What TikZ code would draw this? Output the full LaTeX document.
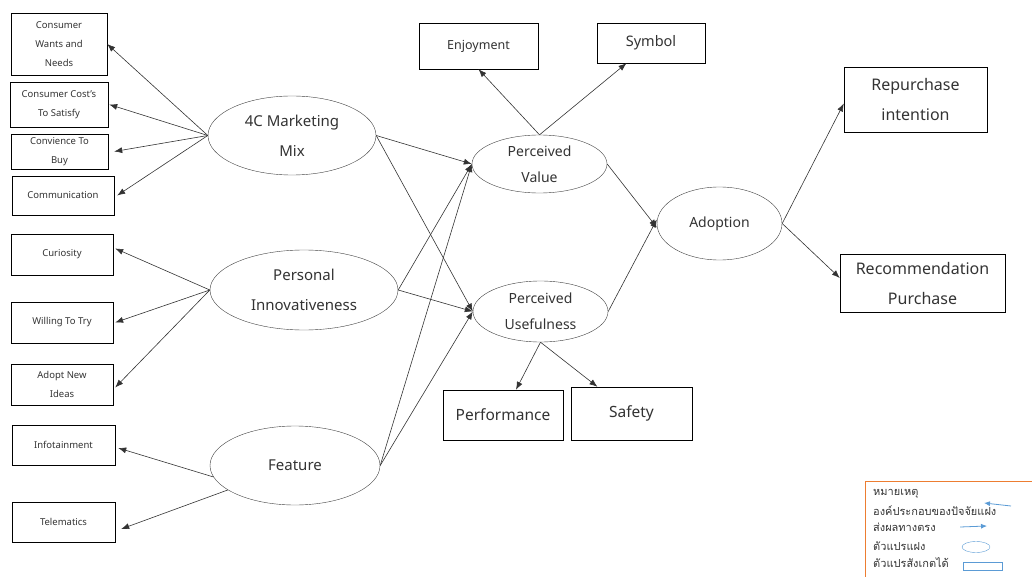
\documentclass[tikz,border=0pt]{standalone}
\usepackage{fontspec}
\setmainfont{Noto Sans}
\newfontfamily\thaifont[Script=Thai]{Loma}
\usetikzlibrary{shapes.geometric, arrows.meta, positioning}
\definecolor{linegray}{HTML}{333333}
\definecolor{legorange}{HTML}{ED7D31}
\definecolor{legblue}{HTML}{5B9BD5}
\tikzstyle{arrow} = [line width=0.6pt,draw=linegray,->,>={Latex[length=8pt,width=6pt]}]
\tikzstyle{legarrow} = [thick,draw=legblue,->,>={Latex[length=6pt,width=5pt]}]
\tikzstyle{obs} = [thin,draw=black,rectangle,inner sep=0pt,align=center,text=black!80]
\tikzstyle{lat} = [thin,draw=black!75,ellipse,inner sep=0pt,align=center,text=black!80]
\tikzstyle{small} = [font=\fontsize{9.5}{19}\selectfont]
\tikzstyle{mid} = [font=\fontsize{14}{26}\selectfont]
\tikzstyle{big} = [font=\fontsize{15}{30}\selectfont]
\tikzstyle{legtxt} = [anchor=west,inner sep=0pt,text=black!80,font=\thaifont\fontsize{11}{12}\selectfont]

\begin{document}
\begin{tikzpicture}[x=1pt,y=-1pt]
    \useasboundingbox (0,0) rectangle (1032,577);

    % indicators on the left
    \node[obs, small, minimum width=96, minimum height=62] (cwn) at (59,44) {Consumer\\Wants and\\Needs};
    \node[obs, small, minimum width=98, minimum height=45] (cost) at (59,104.5) {Consumer Cost's\\To Satisfy};
    \node[obs, small, minimum width=97, minimum height=35] (conv) at (59.5,151.5) {Convience To\\Buy};
    \node[obs, small, minimum width=102, minimum height=39] (comm) at (63,195.5) {Communication};
    \node[obs, small, minimum width=102, minimum height=41] (cur) at (62,254.5) {Curiosity};
    \node[obs, small, minimum width=102, minimum height=41] (will) at (62,322.5) {Willing To Try};
    \node[obs, small, minimum width=102, minimum height=41] (adop) at (62,384.5) {Adopt New\\Ideas};
    \node[obs, small, minimum width=103, minimum height=40] (info) at (63.5,445) {Infotainment};
    \node[obs, small, minimum width=103, minimum height=40] (tele) at (63.5,522) {Telematics};

    % latent variables
    \node[lat, big, minimum width=168, minimum height=79] (mkt) at (292,135.5) {4C Marketing\\Mix};
    \node[lat, big, minimum width=188, minimum height=80] (pinn) at (304,290) {Personal\\Innovativeness};
    \node[lat, big, minimum width=170, minimum height=79] (feat) at (295,465.5) {Feature};
    \node[lat, mid, minimum width=135, minimum height=58] (pv) at (539.5,164) {Perceived\\Value};
    \node[lat, mid, minimum width=135, minimum height=61] (pu) at (540.5,311.5) {Perceived\\Usefulness};
    \node[lat, mid, minimum width=125, minimum height=73] (ado) at (719.5,223.5) {Adoption};

    % indicators on the right
    \node[obs, font=\fontsize{12.5}{15}\selectfont, minimum width=119, minimum height=46] (enj) at (478.5,46) {Enjoyment};
    \node[obs, font=\fontsize{14.5}{17}\selectfont, minimum width=108, minimum height=40] (sym) at (651,43) {Symbol};
    \node[obs, font=\fontsize{16}{30}\selectfont, minimum width=143, minimum height=65] (rep) at (915.5,99.5) {Repurchase\\intention};
    \node[obs, font=\fontsize{16}{30}\selectfont, minimum width=165, minimum height=58] (rec) at (922.5,283) {Recommendation\\Purchase};
    \node[obs, font=\fontsize{15.5}{18}\selectfont, minimum width=120, minimum height=50] (perf) at (503,415) {Performance};
    \node[obs, font=\fontsize{15.5}{18}\selectfont, minimum width=121, minimum height=53] (safe) at (631.5,413.5) {Safety};

    % measurement arrows
    \draw[arrow] (mkt.west) -- (cwn.east);
    \draw[arrow] (mkt.west) -- ([xshift=1]cost.east);
    \draw[arrow] (mkt.west) -- ([xshift=6]conv.east);
    \draw[arrow] (mkt.west) -- ([xshift=3]comm.east);
    \draw[arrow] (pinn.west) -- ([xshift=2,yshift=6]cur.east);
    \draw[arrow] (pinn.west) -- ([xshift=2]will.east);
    \draw[arrow] (pinn.west) -- ([xshift=2,yshift=-3]adop.east);
    \draw[arrow] (feat.188) -- ([xshift=3,yshift=-3]info.east);
    \draw[arrow] (feat.200) -- ([xshift=6,yshift=-7]tele.east);
    \draw[arrow] (pv.north) -- (enj.south);
    \draw[arrow] (pv.north) -- (sym);
    \draw[arrow] (pu.south) -- (perf);
    \draw[arrow] (pu.south) -- (safe);
    \draw[arrow] (ado.east) -- ([yshift=-4]rep.west);
    \draw[arrow] (ado.east) -- ([yshift=5]rec.west);

    % structural paths
    \draw[arrow] (mkt.east) -- (pv.west);
    \draw[arrow] (mkt.east) -- (pu.west);
    \draw[arrow] (pinn.east) -- (pv.west);
    \draw[arrow] (pinn.east) -- (pu.west);
    \draw[arrow] (feat.east) -- (pv.west);
    \draw[arrow] (feat.east) -- (pu.west);
    \draw[arrow] (pv.east) -- ([yshift=-4]ado.west);
    \draw[arrow] (pu.east) -- ([yshift=4]ado.west);

    % legend
    \node[draw=legorange, thick, minimum width=175, minimum height=110, anchor=north west, inner sep=0pt] (legbox) at (865,481) {};
    \node[legtxt] (l1) at (873,494) {หมายเหตุ};
    \node[legtxt] (l2) at (873,511) {องค์ประกอบของปัจจัยแฝง};
    \node[legtxt] (l3) at (873,527) {ส่งผลทางตรง};
    \node[legtxt] (l4) at (873,546) {ตัวแปรแฝง};
    \node[legtxt] (l5) at (873,563) {ตัวแปรสังเกตได้};
    \coordinate (la1) at (1011,506);
    \coordinate (la2) at (984,503);
    \coordinate (lb1) at (960,527);
    \coordinate (lb2) at (987,526);
    \draw[legarrow] (la1) -- (la2);
    \draw[legarrow] (lb1) -- (lb2);
    \node[draw=legblue, ellipse, minimum width=28, minimum height=11, inner sep=0pt] (legell) at (976,547) {};
    \node[draw=legblue, minimum width=39, minimum height=8, inner sep=0pt] (legrect) at (982.5,566.5) {};
\end{tikzpicture}
\end{document}
